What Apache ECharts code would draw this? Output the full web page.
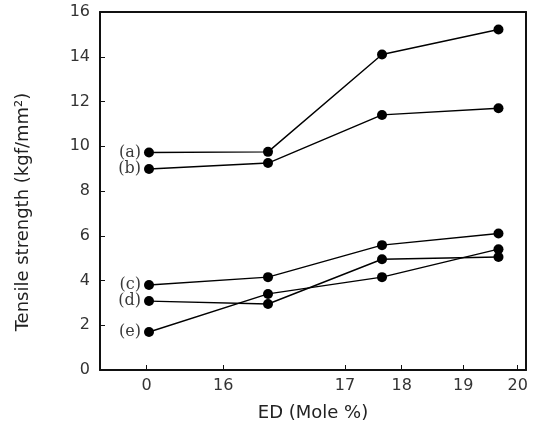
<!DOCTYPE html>
<html><head><meta charset="utf-8">
<script src="https://cdn.jsdelivr.net/npm/echarts@6/dist/echarts.min.js"></script>
<style>html,body{margin:0;padding:0;background:#fff}#c{width:534px;height:427px}</style>
</head><body><div id="c"></div>
<script>
// x positions on the (non-linear) ED axis, expressed in axis units 0..100
const tickPos = [10.96, 28.94, 57.51, 70.82, 85.28, 98.05];
const tickLabels = ['0', '16', '17', '18', '19', '20'];
const xPos = [11.5, 39.44, 66.2, 93.54];
const seriesNames = ['(a)', '(b)', '(c)', '(d)', '(e)'];
const a = [9.72, 9.75, 14.1, 15.22];
const b = [8.98, 9.25, 11.4, 11.7];
const c = [3.8, 4.15, 5.58, 6.1];
const d = [3.08, 2.95, 4.95, 5.05];
const e = [1.7, 3.4, 4.15, 5.4];
const values = [a, b, c, d, e];

const chart = echarts.init(document.getElementById('c'));
const series = values.map((v, i) => ({
  type: 'line',
  name: seriesNames[i],
  xAxisIndex: 0, yAxisIndex: 0,
  data: v.map((y, k) => ({
    value: [xPos[k], y],
    label: k === 0 ? {show: true, position: 'left', distance: 3, formatter: seriesNames[i],
      fontFamily: 'DejaVu Serif', fontSize: 16, color: '#3a3a3a'} : {show: false}
  })),
  symbol: 'circle', symbolSize: 10,
  itemStyle: {color: '#000'},
  lineStyle: {color: '#000', width: 1.4},
  animation: false
}));
const frame = {show: true, onZero: false, lineStyle: {color: '#111', width: 2}};
chart.setOption({
  animation: false,
  grid: {left: 100, right: 8, top: 12, bottom: 57},
  xAxis: [{
    type: 'value', min: 0, max: 100,
    name: 'ED (Mole %)', nameLocation: 'middle', nameGap: 34,
    nameTextStyle: {fontFamily: 'DejaVu Sans', fontSize: 18, color: '#222'},
    axisLine: frame,
    axisTick: {show: true, inside: true, length: 5, customValues: tickPos, lineStyle: {color: '#111', width: 1}},
    axisLabel: {show: true, customValues: tickPos, margin: 8, fontFamily: 'DejaVu Sans', fontSize: 16, color: '#333',
      formatter: (val) => { const i = tickPos.findIndex(t => Math.abs(t - val) < 1e-6); return i >= 0 ? tickLabels[i] : ''; }},
    splitLine: {show: false}
  }, {
    type: 'value', min: 0, max: 100, position: 'top',
    axisLine: frame, axisTick: {show: false}, axisLabel: {show: false}, splitLine: {show: false}
  }],
  yAxis: [{
    type: 'value', min: 0, max: 16, interval: 2,
    name: 'Tensile strength (kgf/mm\u00B2)', nameLocation: 'middle', nameGap: 68, nameRotate: 90,
    nameTextStyle: {fontFamily: 'DejaVu Sans', fontSize: 18, color: '#222', padding: [0, 42, 0, 0]},
    axisLine: frame,
    axisTick: {show: true, inside: true, length: 5, lineStyle: {color: '#111', width: 1}},
    axisLabel: {margin: 10, fontFamily: 'DejaVu Sans', fontSize: 16, color: '#333'},
    splitLine: {show: false}
  }, {
    type: 'value', min: 0, max: 16, position: 'right',
    axisLine: frame, axisTick: {show: false}, axisLabel: {show: false}, splitLine: {show: false}
  }],
  series: series
});
</script></body></html>
